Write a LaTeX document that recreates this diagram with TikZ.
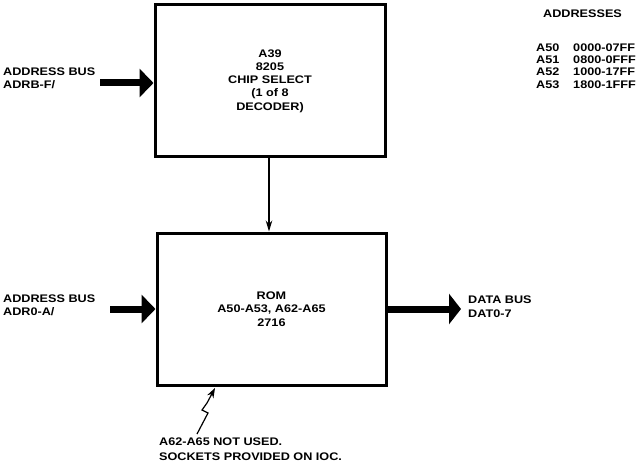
\documentclass[tikz,border=0pt]{standalone}
\usepackage{fontspec}
\setmainfont{Liberation Sans}[FakeStretch=1.15]
\usetikzlibrary{arrows.meta}
\begin{document}
\begin{tikzpicture}[x=1pt,y=-1pt,
  every node/.style={font=\fontsize{11}{13.3}\selectfont\bfseries, inner sep=0pt},
  blockbox/.style={draw, line width=3pt, align=center},
  busarrow/.style={line width=7pt, -{Triangle[length=14pt,width=28pt]}},
  thinarrow/.style={line width=1.1pt, -{Stealth[length=11pt,width=6.5pt]}},
  lbl/.style={align=left, anchor=west}]
\useasboundingbox (0,0) rectangle (637,465);

% blocks
\node[blockbox, minimum width=230pt, minimum height=152pt] (dec) at (270,81)
  {A39\\8205\\CHIP SELECT\\(1 of 8\\DECODER)};
\node[blockbox, minimum width=229pt, minimum height=152pt] (rom) at (271.5,309)
  {ROM\\A50-A53, A62-A65\\2716};

% labels
\node[lbl] (ab1) at (3,78.5) {ADDRESS BUS\\ADRB-F/};
\node[lbl] (ab2) at (3,305) {ADDRESS BUS\\ADR0-A/};
\node[lbl] (db) at (468,306.7) {DATA BUS\\DAT0-7};
\node[anchor=west] (addr) at (543,14) {ADDRESSES};
\node[anchor=west, align=left, font=\fontsize{11}{12.2}\selectfont\bfseries] (tabl) at (536,66) {A50\\A51\\A52\\A53};
\node[anchor=east, align=left, font=\fontsize{11}{12.2}\selectfont\bfseries] (tabr) at (636,66) {0000-07FF\\0800-0FFF\\1000-17FF\\1800-1FFF};
\node[lbl, font=\fontsize{11}{15}\selectfont\bfseries] (note) at (159,449.5) {A62-A65 NOT USED.\\SOCKETS PROVIDED ON IOC.};

% connectors
\coordinate (ab1s) at (100,83);
\coordinate (ab2s) at (110,309);
\coordinate (dbe) at (461,309);
\draw[busarrow] (ab1s) -- (ab1s -| dec.west);
\draw[busarrow] (ab2s) -- (ab2s -| rom.west);
\draw[busarrow, -{Triangle[length=12pt,width=30pt]}] (rom.east |- dbe) -- (dbe);
\draw[thinarrow] (dec.south -| 269,0) -- (rom.north -| 269,0);

% jagged pointer
\coordinate (zs) at (197,434);
\coordinate (zt) at (215,388);
\draw[line width=1.2pt, -{Stealth[length=10pt,width=7pt]}]
  (zs) -- (208,413) -- (202,410) -- (207,403) -- (zt);
\end{tikzpicture}
\end{document}
